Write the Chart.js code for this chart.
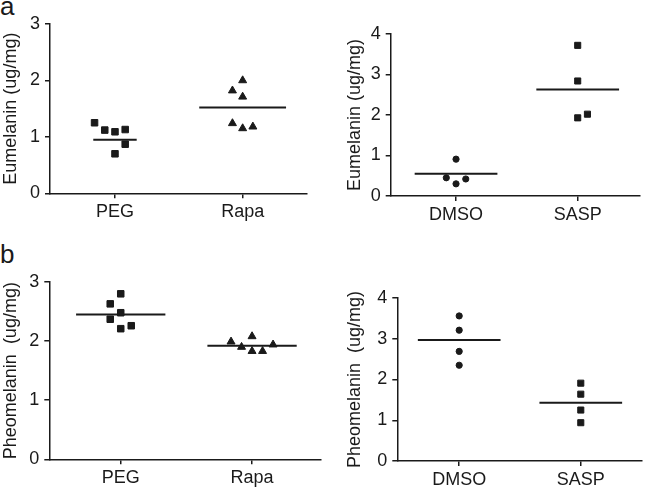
<!DOCTYPE html>
<html><head><meta charset="utf-8">
<script src="https://cdn.jsdelivr.net/npm/chart.js@4.4.1/dist/chart.umd.min.js"></script>
<style>
html,body{margin:0;padding:0;background:#fff}
body{width:647px;height:489px;position:relative;overflow:hidden;font-family:"Liberation Sans",Arial,sans-serif}
.pane{position:absolute}
.lab{position:absolute;font-size:26px;line-height:26px;color:#1a1a1a}
</style></head><body>
<div class="lab" style="left:0px;top:-7px">a</div>
<div class="lab" style="left:0px;top:241px">b</div>
<div class="pane" style="left:0px;top:0px"><canvas id="c1" width="320" height="236"></canvas></div>
<div class="pane" style="left:320px;top:0px"><canvas id="c2" width="327" height="236"></canvas></div>
<div class="pane" style="left:0px;top:240px"><canvas id="c3" width="330" height="249"></canvas></div>
<div class="pane" style="left:330px;top:240px"><canvas id="c4" width="317" height="249"></canvas></div>
<script>
// ---- data ----
const catsA = ['PEG', 'Rapa'];
const catsB = ['DMSO', 'SASP'];
const yTicksA = [0, 1, 2, 3];
const yTicksB = [0, 1, 2, 3, 4];

const eumPEG      = [1.25, 1.12, 1.09, 1.13, 0.87, 0.70];
const eumRapa     = [1.82, 2.00, 1.71, 1.24, 1.15, 1.18];
const eumMeansA   = [0.95, 1.52];
const eumDMSO     = [0.91, 0.45, 0.30, 0.42];
const eumSASP     = [3.72, 2.84, 1.93, 2.02];
const eumMeansB   = [0.55, 2.63];
const pheoPEG     = [2.80, 2.63, 2.48, 2.37, 2.21, 2.26];
const pheoRapa    = [1.99, 1.90, 2.08, 1.83, 1.83, 1.94];
const pheoMeansA  = [2.45, 1.92];
const pheoDMSO    = [3.56, 3.21, 2.69, 2.35];
const pheoSASP    = [1.91, 1.64, 1.25, 0.94];
const pheoMeansB  = [2.97, 1.43];

// ---- layout / style (jitter slots, line half-widths, geometry) ----
const JIT = 0.08;
const jitEumPEG = [-2, -1, 0, 1, 1, 0];
const jitEumRapa = [-1, 0, 0, -1, 0, 1];
const jitEumDMSO = [0, -1, 0, 1];
const jitEumSASP = [0, 0, 0, 1];
const jitPheoPEG = [0, -1, 0, -1, 0, 1];
const jitPheoRapa = [-2, -1, 0, 0, 1, 2];
const jitPheoDMSO = [0, 0, 0, 0];
const jitPheoSASP = [0, 0, 0, 0];

const INK = '#1a1a1a';
const FONT = '"Liberation Sans", Arial, sans-serif';

function makeChart(id, cfg) {
  const datasets = [];
  cfg.groups.forEach((g, i) => {
    datasets.push({
      data: g.vals.map((v, k) => ({x: i + g.jit[k] * JIT, y: v})),
      pointStyle: g.style,
      pointRadius: g.r,
      pointBackgroundColor: INK,
      pointBorderColor: INK,
      pointBorderWidth: 1,
      showLine: false
    });
    const h = cfg.halfW[i];
    datasets.push({
      data: [{x: i - h, y: cfg.means[i]}, {x: i + h, y: cfg.means[i]}],
      showLine: true,
      borderColor: INK,
      borderWidth: 2,
      pointRadius: 0,
      fill: false
    });
  });
  return new Chart(document.getElementById(id), {
    type: 'scatter',
    data: {datasets},
    options: {
      responsive: false,
      animation: false,
      events: [],
      layout: {padding: {left: 0, right: cfg.padR, top: cfg.padT, bottom: 0}},
      plugins: {legend: {display: false}, tooltip: {enabled: false}},
      scales: {
        x: {
          type: 'linear',
          min: cfg.xr[0], max: cfg.xr[1],
          afterBuildTicks: s => { s.ticks = cfg.cats.map((c, i) => ({value: i})); },
          afterFit: s => { s.height = cfg.xH; },
          ticks: {
            callback: (v) => cfg.cats[v],
            color: INK, font: {family: FONT, size: 18}, padding: 3,
            maxRotation: 0, autoSkip: false
          },
          grid: {display: true, drawOnChartArea: false, drawTicks: true, tickLength: 5, color: INK, lineWidth: 1.5},
          border: {display: true, color: INK, width: 1.5}
        },
        y: {
          type: 'linear',
          min: 0, max: cfg.yTicks[cfg.yTicks.length - 1],
          afterBuildTicks: s => { s.ticks = cfg.yTicks.map(v => ({value: v})); },
          afterFit: s => { s.width = cfg.yW; },
          ticks: {color: INK, font: {family: FONT, size: 18}, padding: 5},
          grid: {display: true, drawOnChartArea: false, drawTicks: true, tickLength: 5, color: INK, lineWidth: 1.5},
          border: {display: true, color: INK, width: 1.5},
          title: {display: true, text: cfg.title, color: INK, font: {family: FONT, size: 18}, padding: {top: cfg.tPad, bottom: 0}}
        }
      }
    }
  });
}

makeChart('c1', {
  cats: catsA, yTicks: yTicksA, title: 'Eumelanin (ug/mg)',
  groups: [{vals: eumPEG, jit: jitEumPEG, style: 'rect', r: 4.6}, {vals: eumRapa, jit: jitEumRapa, style: 'triangle', r: 4.6}],
  means: eumMeansA, halfW: [0.17, 0.34],
  xr: [-0.509, 1.504], yW: 50, padR: 13, padT: 24, xH: 42.7, tPad: 0
});
makeChart('c2', {
  cats: catsB, yTicks: yTicksB, title: 'Eumelanin (ug/mg)',
  groups: [{vals: eumDMSO, jit: jitEumDMSO, style: 'circle', r: 3.1}, {vals: eumSASP, jit: jitEumSASP, style: 'rect', r: 4.3}],
  means: eumMeansB, halfW: [0.34, 0.34],
  xr: [-0.537, 1.512], yW: 70.7, padR: 7, padT: 34, xH: 40, tPad: 24
});
makeChart('c3', {
  cats: catsA, yTicks: yTicksA, title: 'Pheomelanin  (ug/mg)',
  groups: [{vals: pheoPEG, jit: jitPheoPEG, style: 'rect', r: 4.6}, {vals: pheoRapa, jit: jitPheoRapa, style: 'triangle', r: 4.6}],
  means: pheoMeansA, halfW: [0.34, 0.34],
  xr: [-0.544, 1.525], yW: 49.3, padR: 9, padT: 42, xH: 29.7, tPad: 0
});
makeChart('c4', {
  cats: catsB, yTicks: yTicksB, title: 'Pheomelanin  (ug/mg)',
  groups: [{vals: pheoDMSO, jit: jitPheoDMSO, style: 'circle', r: 3.1}, {vals: pheoSASP, jit: jitPheoSASP, style: 'rect', r: 4.3}],
  means: pheoMeansB, halfW: [0.34, 0.34],
  xr: [-0.509, 1.501], yW: 67.3, padR: 2, padT: 58, xH: 28, tPad: 14
});
</script>
</body></html>
